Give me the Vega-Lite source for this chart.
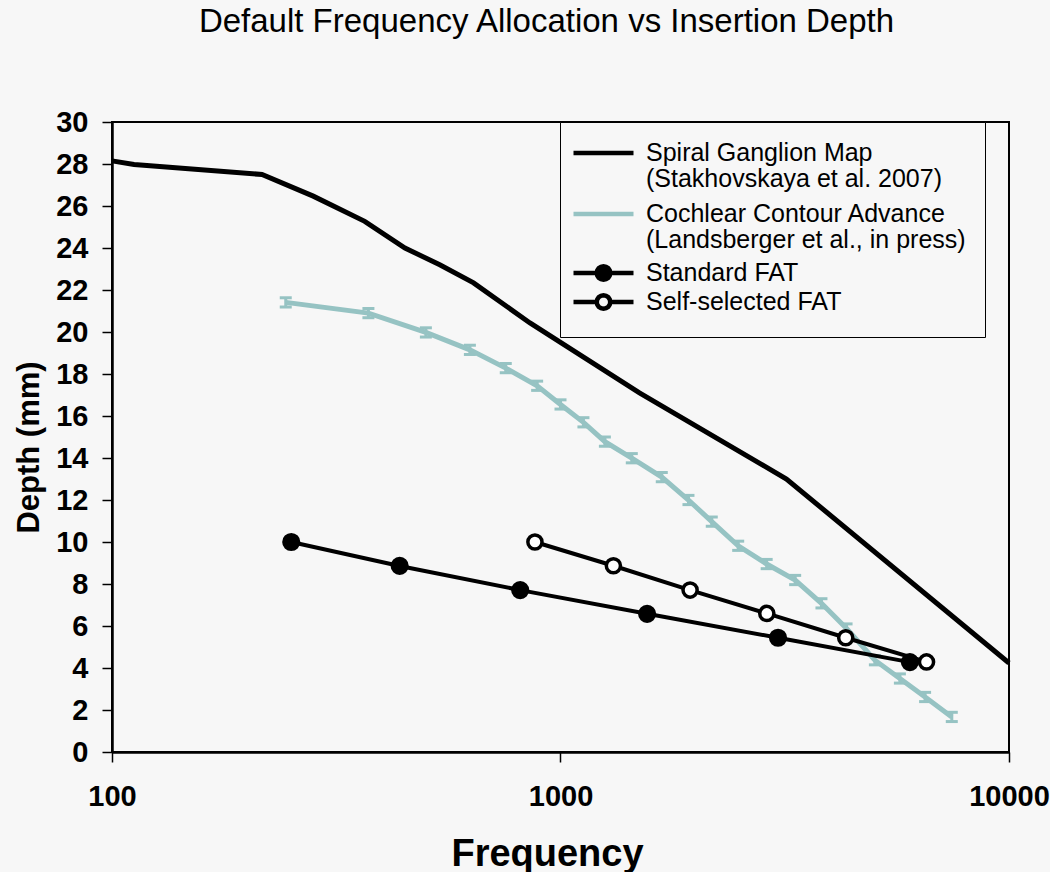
{
  "$schema": "https://vega.github.io/schema/vega-lite/v6.json",
  "width": 897,
  "height": 630,
  "autosize": "none",
  "padding": {"left": 112, "top": 122, "right": 41, "bottom": 120},
  "background": "#f7f7f7",
  "title": {
    "text": "Default Frequency Allocation vs Insertion Depth",
    "font": "Liberation Sans",
    "fontSize": 33,
    "fontWeight": "normal",
    "color": "#000000",
    "anchor": "middle",
    "offset": 69,
    "dx": -14
  },
  "config": {
    "view": {"stroke": "#000000", "strokeWidth": 2},
    "axis": {
      "grid": false,
      "labelFont": "Liberation Sans",
      "labelFontWeight": "bold",
      "labelFontSize": 29,
      "labelColor": "#000000",
      "labelFlush": false,
      "labelOverlap": false,
      "tickColor": "#000000",
      "tickSize": 10,
      "tickWidth": 1.5,
      "domainColor": "#000000",
      "domainWidth": 2.5,
      "titleFont": "Liberation Sans",
      "titleFontWeight": "bold",
      "titleColor": "#000000"
    }
  },
  "data": {
    "values": [
      {"series": "Spiral Ganglion Map", "freq": 100, "depth": 28.15},
      {"series": "Spiral Ganglion Map", "freq": 112, "depth": 27.98},
      {"series": "Spiral Ganglion Map", "freq": 216, "depth": 27.5},
      {"series": "Spiral Ganglion Map", "freq": 281, "depth": 26.47},
      {"series": "Spiral Ganglion Map", "freq": 366, "depth": 25.27},
      {"series": "Spiral Ganglion Map", "freq": 450, "depth": 24.0},
      {"series": "Spiral Ganglion Map", "freq": 538, "depth": 23.2},
      {"series": "Spiral Ganglion Map", "freq": 640, "depth": 22.34},
      {"series": "Spiral Ganglion Map", "freq": 855, "depth": 20.43},
      {"series": "Spiral Ganglion Map", "freq": 1500, "depth": 17.1},
      {"series": "Spiral Ganglion Map", "freq": 3190, "depth": 13.0},
      {"series": "Spiral Ganglion Map", "freq": 10000, "depth": 4.24},
      {"series": "Cochlear Contour Advance", "freq": 244, "depth": 21.41, "lo": 21.19, "hi": 21.63},
      {"series": "Cochlear Contour Advance", "freq": 373, "depth": 20.9, "lo": 20.68, "hi": 21.12},
      {"series": "Cochlear Contour Advance", "freq": 501, "depth": 19.98, "lo": 19.76, "hi": 20.2},
      {"series": "Cochlear Contour Advance", "freq": 628, "depth": 19.15, "lo": 18.93, "hi": 19.37},
      {"series": "Cochlear Contour Advance", "freq": 755, "depth": 18.28, "lo": 18.06, "hi": 18.5},
      {"series": "Cochlear Contour Advance", "freq": 887, "depth": 17.44, "lo": 17.22, "hi": 17.66},
      {"series": "Cochlear Contour Advance", "freq": 1000, "depth": 16.55, "lo": 16.33, "hi": 16.77},
      {"series": "Cochlear Contour Advance", "freq": 1125, "depth": 15.7, "lo": 15.48, "hi": 15.92},
      {"series": "Cochlear Contour Advance", "freq": 1256, "depth": 14.78, "lo": 14.56, "hi": 15.0},
      {"series": "Cochlear Contour Advance", "freq": 1442, "depth": 13.99, "lo": 13.77, "hi": 14.21},
      {"series": "Cochlear Contour Advance", "freq": 1682, "depth": 13.09, "lo": 12.87, "hi": 13.31},
      {"series": "Cochlear Contour Advance", "freq": 1929, "depth": 12.0, "lo": 11.78, "hi": 12.22},
      {"series": "Cochlear Contour Advance", "freq": 2174, "depth": 10.97, "lo": 10.75, "hi": 11.19},
      {"series": "Cochlear Contour Advance", "freq": 2490, "depth": 9.82, "lo": 9.6, "hi": 10.04},
      {"series": "Cochlear Contour Advance", "freq": 2882, "depth": 8.95, "lo": 8.73, "hi": 9.17},
      {"series": "Cochlear Contour Advance", "freq": 3336, "depth": 8.19, "lo": 7.97, "hi": 8.41},
      {"series": "Cochlear Contour Advance", "freq": 3818, "depth": 7.08, "lo": 6.86, "hi": 7.3},
      {"series": "Cochlear Contour Advance", "freq": 4343, "depth": 5.88, "lo": 5.66, "hi": 6.1},
      {"series": "Cochlear Contour Advance", "freq": 5023, "depth": 4.37, "lo": 4.15, "hi": 4.59},
      {"series": "Cochlear Contour Advance", "freq": 5711, "depth": 3.5, "lo": 3.28, "hi": 3.72},
      {"series": "Cochlear Contour Advance", "freq": 6500, "depth": 2.62, "lo": 2.4, "hi": 2.84},
      {"series": "Cochlear Contour Advance", "freq": 7455, "depth": 1.67, "lo": 1.45, "hi": 1.89},
      {"series": "Standard FAT", "freq": 251, "depth": 10.0},
      {"series": "Standard FAT", "freq": 438, "depth": 8.86},
      {"series": "Standard FAT", "freq": 813, "depth": 7.71},
      {"series": "Standard FAT", "freq": 1560, "depth": 6.58},
      {"series": "Standard FAT", "freq": 3055, "depth": 5.44},
      {"series": "Standard FAT", "freq": 6012, "depth": 4.28},
      {"series": "Self-selected FAT", "freq": 877, "depth": 10.0},
      {"series": "Self-selected FAT", "freq": 1312, "depth": 8.87},
      {"series": "Self-selected FAT", "freq": 1945, "depth": 7.71},
      {"series": "Self-selected FAT", "freq": 2884, "depth": 6.6},
      {"series": "Self-selected FAT", "freq": 4325, "depth": 5.44},
      {"series": "Self-selected FAT", "freq": 6548, "depth": 4.29}
    ]
  },
  "encoding": {
    "x": {
      "field": "freq",
      "type": "quantitative",
      "scale": {"type": "log", "domain": [100, 10000]},
      "title": "Frequency",
      "axis": {"values": [100, 1000, 10000], "format": "d", "labelPadding": 20, "titleFontSize": 38, "titlePadding": 24, "titleX": 435}
    },
    "y": {
      "field": "depth",
      "type": "quantitative",
      "scale": {"domain": [0, 30]},
      "title": "Depth (mm)",
      "axis": {"values": [0, 2, 4, 6, 8, 10, 12, 14, 16, 18, 20, 22, 24, 26, 28, 30], "labelPadding": 14, "titleFontSize": 31, "titlePadding": 10, "titleY": 325}
    }
  },
  "layer": [
    {
      "transform": [{"filter": "datum.series === 'Cochlear Contour Advance'"}],
      "mark": {"type": "rule", "color": "#96c3c3", "strokeWidth": 3},
      "encoding": {
        "y": {"field": "lo", "type": "quantitative", "title": "Depth (mm)"},
        "y2": {"field": "hi"}
      }
    },
    {
      "transform": [{"filter": "datum.series === 'Cochlear Contour Advance'"}],
      "mark": {"type": "point", "shape": "M-1,0H1", "filled": false, "stroke": "#96c3c3", "strokeWidth": 3, "size": 144, "opacity": 1},
      "encoding": {"y": {"field": "lo", "type": "quantitative", "title": "Depth (mm)"}}
    },
    {
      "transform": [{"filter": "datum.series === 'Cochlear Contour Advance'"}],
      "mark": {"type": "point", "shape": "M-1,0H1", "filled": false, "stroke": "#96c3c3", "strokeWidth": 3, "size": 144, "opacity": 1},
      "encoding": {"y": {"field": "hi", "type": "quantitative", "title": "Depth (mm)"}}
    },
    {
      "transform": [{"filter": "datum.series === 'Cochlear Contour Advance'"}],
      "mark": {"type": "line", "color": "#96c3c3", "strokeWidth": 5},
      "encoding": {}
    },
    {
      "transform": [{"filter": "datum.series === 'Spiral Ganglion Map'"}],
      "mark": {"type": "line", "color": "#000000", "strokeWidth": 5},
      "encoding": {}
    },
    {
      "transform": [{"filter": "datum.series === 'Standard FAT' || datum.series === 'Self-selected FAT'"}],
      "mark": {"type": "line", "color": "#000000", "strokeWidth": 4},
      "encoding": {"detail": {"field": "series"}}
    },
    {
      "transform": [{"filter": "datum.series === 'Standard FAT'"}],
      "mark": {"type": "point", "shape": "circle", "filled": true, "fill": "#000000", "stroke": "#000000", "strokeWidth": 3, "size": 230, "opacity": 1},
      "encoding": {}
    },
    {
      "transform": [{"filter": "datum.series === 'Self-selected FAT'"}],
      "mark": {"type": "point", "shape": "circle", "filled": true, "fill": "#ffffff", "stroke": "#000000", "strokeWidth": 3.5, "size": 200, "opacity": 1},
      "encoding": {}
    },
    {
      "transform": [{"filter": "datum.series === 'Standard FAT'"}],
      "mark": {"type": "point", "filled": false, "opacity": 0, "strokeWidth": 4.5},
      "encoding": {
        "stroke": {
          "field": "series",
          "type": "nominal",
          "scale": {
            "domain": ["Spiral Ganglion Map", "(Stakhovskaya et al. 2007)", "Cochlear Contour Advance", "(Landsberger et al., in press)", "Standard FAT", "Self-selected FAT"],
            "range": ["#000000", "transparent", "#96c3c3", "transparent", "#000000", "#000000"]
          },
          "legend": {
            "title": null,
            "orient": "none",
            "legendX": 448,
            "legendY": 0,
            "padding": 18.5,
            "strokeColor": "#000000",
            "fillColor": "#f7f7f7",
            "labelFont": "Liberation Sans",
            "labelFontSize": 25,
            "labelColor": "#000000",
            "labelLimit": 600,
            "labelOffset": 30,
            "symbolOffset": 12.5,
            "symbolSize": 144,
            "symbolStrokeWidth": 4.5,
            "symbolFillColor": "#ffffff",
            "symbolOpacity": 1,
            "rowPadding": -10.1
          }
        },
        "shape": {
          "field": "series",
          "type": "nominal",
          "scale": {
            "domain": ["Spiral Ganglion Map", "(Stakhovskaya et al. 2007)", "Cochlear Contour Advance", "(Landsberger et al., in press)", "Standard FAT", "Self-selected FAT"],
            "range": [
              "M-5,0H5",
              "M-5,0H5M0,2.15",
              "M-5,0H5",
              "M-5,0H5M0,1.82",
              "M-5,0H5M1.125,0L1.039,0.431L0.795,0.795L0.431,1.039L0,1.125L-0.431,1.039L-0.795,0.795L-1.039,0.431L-1.125,0L-1.039,-0.431L-0.795,-0.795L-0.431,-1.039L0,-1.125L0.431,-1.039L0.795,-0.795L1.039,-0.431ZM0.42,0L0.297,0.297L0,0.42L-0.297,0.297L-0.42,0L-0.297,-0.297L0,-0.42L0.297,-0.297Z",
              "M-5,0H-1.125M1.125,0H5M1.125,0L1.039,0.431L0.795,0.795L0.431,1.039L0,1.125L-0.431,1.039L-0.795,0.795L-1.039,0.431L-1.125,0L-1.039,-0.431L-0.795,-0.795L-0.431,-1.039L0,-1.125L0.431,-1.039L0.795,-0.795L1.039,-0.431Z"
            ]
          }
        }
      }
    }
  ]
}
